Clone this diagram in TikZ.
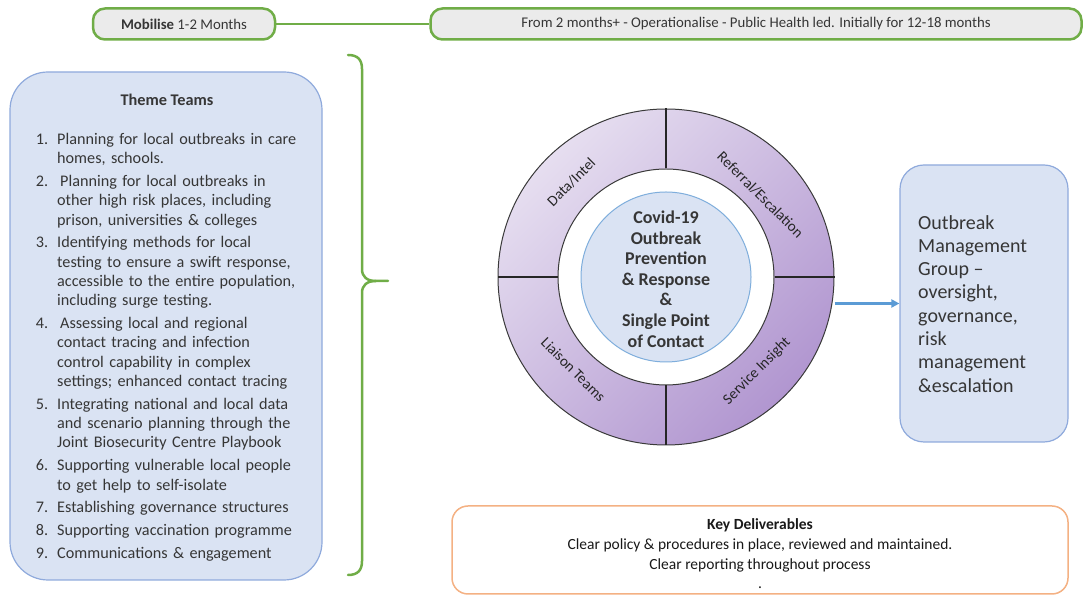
\documentclass[tikz,border=0pt]{standalone}
\usepackage{fontspec}
\setmainfont{Carlito}
\usepackage{enumitem}
\usetikzlibrary{arrows.meta}

\definecolor{phgreen}{HTML}{70AD47}
\definecolor{phasegrey}{HTML}{EBEBEB}
\definecolor{teamfill}{HTML}{DAE3F3}
\definecolor{teamedge}{HTML}{8FAADC}
\definecolor{coreedge}{HTML}{7FAEDC}
\definecolor{ringlight}{HTML}{E6DEF0}
\definecolor{ringdark}{HTML}{B196D0}
\definecolor{ringedge}{HTML}{3A3A3A}
\definecolor{arrowblue}{HTML}{5B9BD5}
\definecolor{delivedge}{HTML}{F4B183}
\definecolor{inkgrey}{HTML}{363636}

\begin{document}
\begin{tikzpicture}[x=1pt,y=1pt,
  phase/.style={rectangle,rounded corners=12pt,draw=phgreen,fill=phasegrey,
    line width=2.5pt,minimum height=31pt,inner sep=0pt,text=inkgrey,
    font=\fontsize{14.8}{17}\selectfont},
  team/.style={rectangle,rounded corners=38pt,draw=teamedge,fill=teamfill,
    line width=1.2pt},
  group/.style={rectangle,rounded corners=24pt,draw=teamedge,fill=teamfill,
    line width=1.2pt},
  deliv/.style={rectangle,rounded corners=16pt,draw=delivedge,fill=white,
    line width=1.5pt},
  divider/.style={line width=1.8pt,draw=black!85},
  seg/.style={text=black!85,font=\fontsize{15}{17}\selectfont},
  flow/.style={draw=arrowblue,line width=2.2pt,-{Triangle[length=8pt,width=8pt]}}]
  \useasboundingbox (0,0) rectangle (1084,596);
  % phases along the top
  \node[phase,minimum width=182pt] (mob) at (184,572) {\textbf{Mobilise} 1-2 Months};
  \node[phase,minimum width=651pt] (ops) at (756,572) {From 2 months+ - Operationalise - Public Health led. Initially for 12-18 months};
  \draw[phgreen,line width=2.5pt] (mob) -- (ops);
  % theme teams
  \node[team,minimum width=312pt,minimum height=508pt] (teams) at (166,270) {};
  \node[text=inkgrey,font=\bfseries\fontsize{16.3}{19}\selectfont] (title) at (167,496) {Theme Teams};
  \node[anchor=north west,text width=285pt,align=left,inner sep=0pt,text=inkgrey,
    font=\fontsize{16.2}{19.3}\selectfont] (list) at (33,471) {%
    \begin{enumerate}[label=\arabic*.,leftmargin=24pt,labelsep=9pt,itemsep=3.5pt,
      topsep=0pt,parsep=0pt,partopsep=0pt]
    \item Planning for local outbreaks in care\newline homes, schools.
    \item \hspace{3pt}Planning for local outbreaks in\newline other high risk places, including\newline prison, universities \& colleges
    \item Identifying methods for local\newline testing to ensure a swift response,\newline accessible to the entire population,\newline including surge testing.
    \item \hspace{3pt}Assessing local and regional\newline contact tracing and infection\newline control capability in complex\newline settings; enhanced contact tracing
    \item Integrating national and local data\newline and scenario planning through the\newline Joint Biosecurity Centre Playbook
    \item Supporting vulnerable local people\newline to get help to self-isolate
    \item Establishing governance structures
    \item Supporting vaccination programme
    \item Communications \& engagement
    \end{enumerate}};
  % brace
  \draw[phgreen,line width=2.5pt,line cap=round] (348,541) .. controls (358,541) and (362,536) .. (362,527)
    -- (362,327) .. controls (362,319) and (367,315) .. (376,315) -- (388,315);
  \draw[phgreen,line width=2.5pt,line cap=round] (376,315) .. controls (367,315) and (362,311) .. (362,303)
    -- (362,35) .. controls (362,26) and (358,21) .. (348,21);
  % ring of four teams
  \node[circle,minimum size=336pt,inner sep=0pt,draw=ringedge,line width=1pt,
    top color=ringlight,bottom color=ringdark,shading angle=45] (ring) at (666,319) {};
  \node[circle,minimum size=216pt,inner sep=0pt,draw=ringedge,line width=1pt,fill=white] (hole) at (ring) {};
  \foreach \s in {north,south,east,west}
    \draw[divider] (hole.\s) -- (ring.\s);
  \node[circle,minimum size=170pt,inner sep=0pt,draw=coreedge,line width=1pt,fill=teamfill] (core) at (ring) {};
  \node[align=center,text=inkgrey,font=\bfseries\fontsize{18}{20.6}\selectfont] (corelbl) at (666,317)
    {Covid-19\\Outbreak\\Prevention\\\& Response\\\&\\Single Point\\of Contact};
  \node[seg,rotate=45] (data) at ([shift={(135:134)}]ring.center) {Data/Intel};
  \node[seg,rotate=-45] (refer) at ([shift={(41:125)}]ring.center) {Referral/Escalation};
  \node[seg,rotate=-45] (liaise) at ([shift={(225:131)}]ring.center) {Liaison Teams};
  \node[seg,rotate=45] (insight) at ([shift={(314:131)}]ring.center) {Service Insight};
  % outbreak management group
  \node[group,minimum width=168pt,minimum height=277pt] (omg) at (984,292.5) {};
  \node[anchor=north west,align=left,inner sep=0pt,text=inkgrey,
    font=\fontsize{20}{23.3}\selectfont] (omgtxt) at (918,381)
    {Outbreak\\Management\\Group –\\oversight,\\governance,\\risk\\management\\\&escalation};
  \draw[flow] (omg.west -| ring.east) -- (omg.west);
  % key deliverables
  \node[deliv,minimum width=616pt,minimum height=88pt] (keys) at (760,46) {};
  \node[align=center,text=black!90,font=\fontsize{15.5}{19.6}\selectfont] (keytxt) at (760,42)
    {\textbf{Key Deliverables}\\Clear policy \& procedures in place, reviewed and maintained.\\Clear reporting throughout process\\.};
\end{tikzpicture}
\end{document}
